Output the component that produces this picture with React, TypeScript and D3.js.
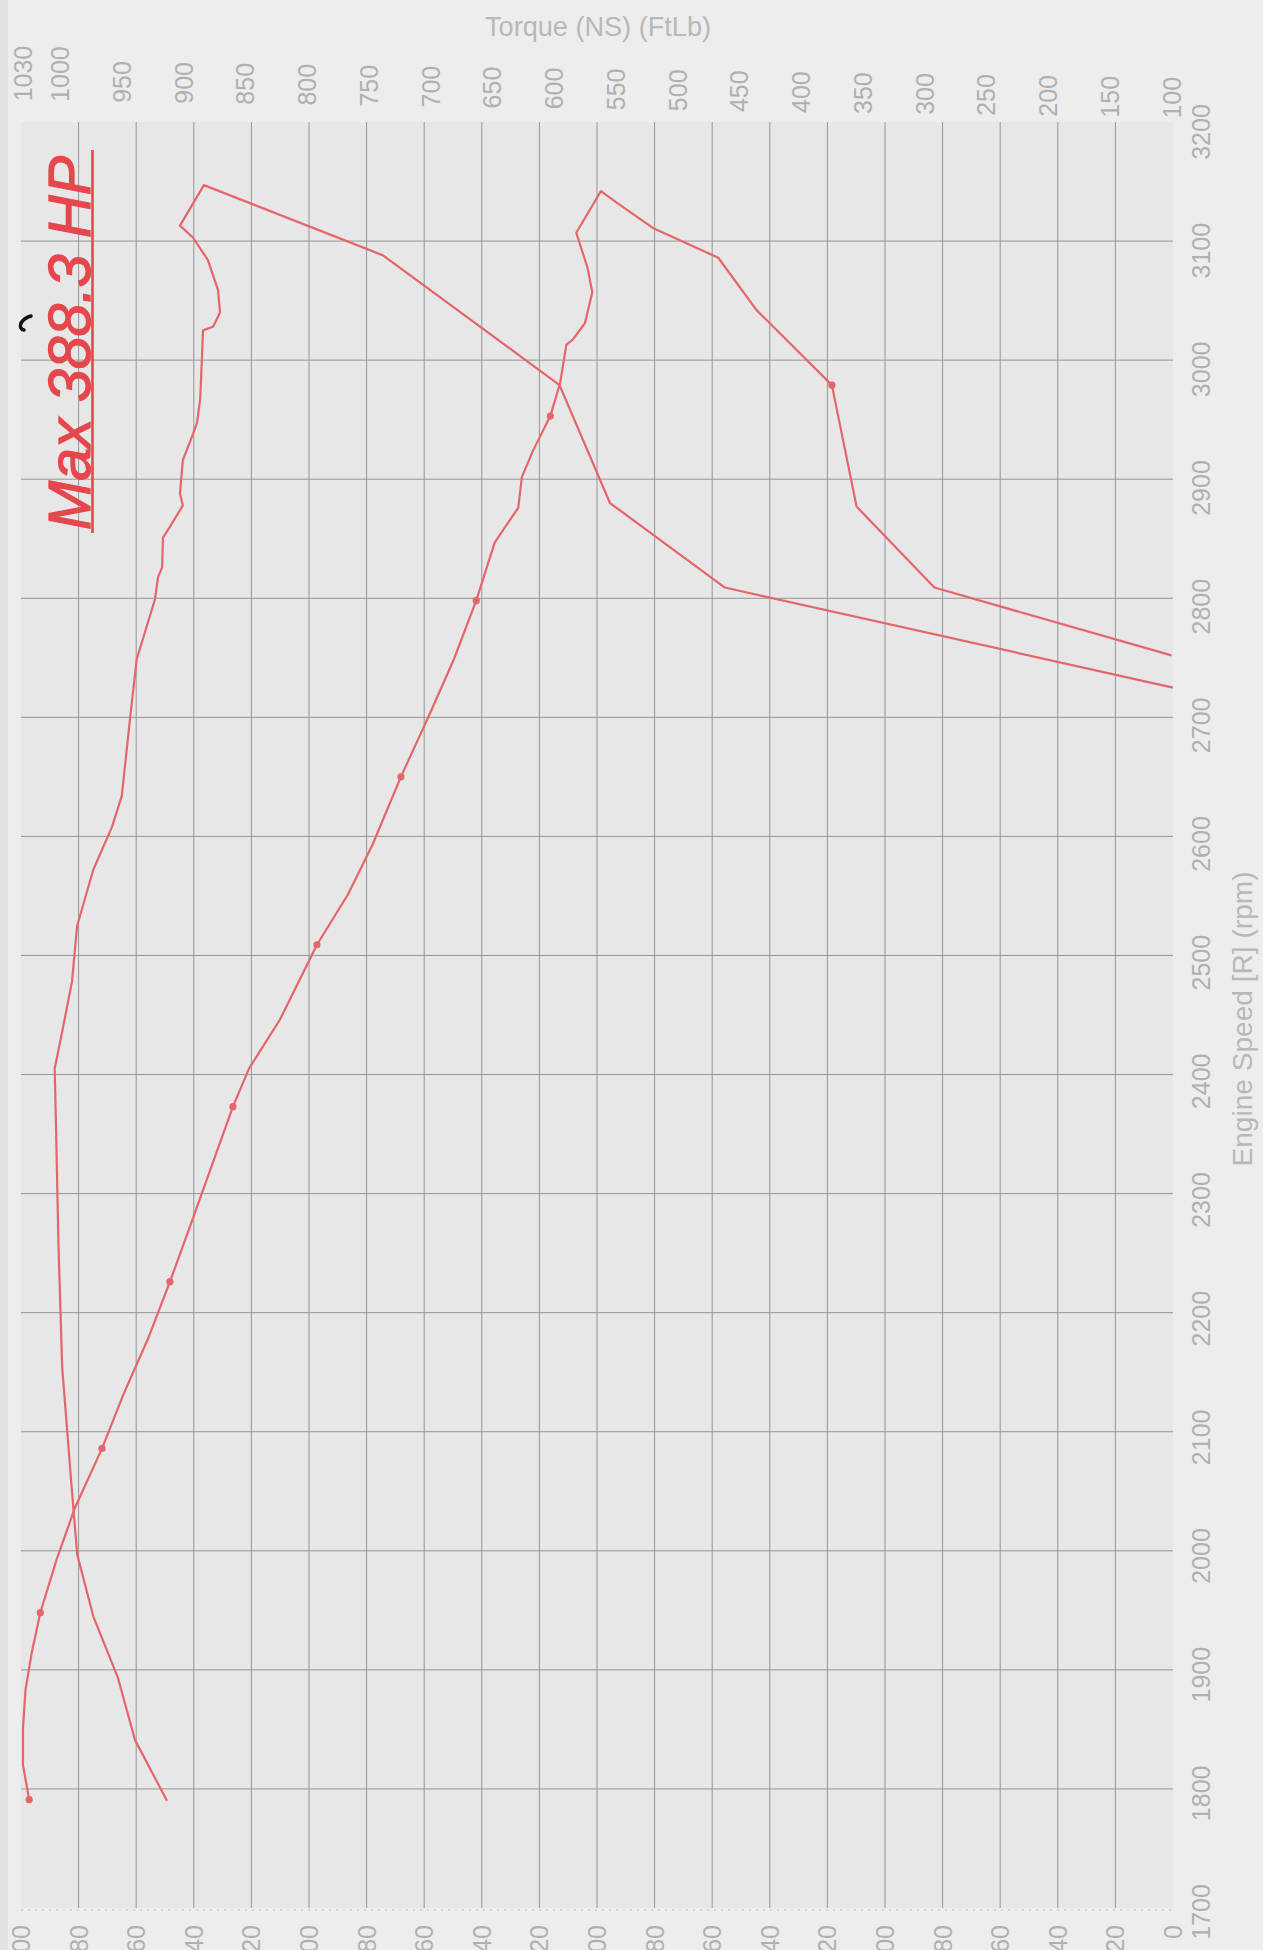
import React from 'react';
import * as d3 from 'd3';

// ---- tick labels ----
const torqueTicks = [1030, 1000, 950, 900, 850, 800, 750, 700, 650, 600, 550, 500, 450, 400, 350, 300, 250, 200, 150, 100];
const hpTicks = [0, 20, 40, 60, 80, 100, 120, 140, 160, 180, 200, 220, 240, 260, 280, 300, 320, 340, 360, 380, 400];
const rpmTicks = [1700, 1800, 1900, 2000, 2100, 2200, 2300, 2400, 2500, 2600, 2700, 2800, 2900, 3000, 3100, 3200];
const hpGrid = [20, 40, 60, 80, 100, 120, 140, 160, 180, 200, 220, 240, 260, 280, 300, 320, 340, 360, 380];
const rpmGrid = [1800, 1900, 2000, 2100, 2200, 2300, 2400, 2500, 2600, 2700, 2800, 2900, 3000, 3100];

// ---- torque run (ft-lb), in recorded order incl. coast-down ----
const torqueRpm = [1791, 1820, 1851, 1883, 1914, 1948, 1992, 2036, 2086, 2133, 2180, 2226, 2269, 2321, 2373, 2405, 2446, 2509, 2551, 2593, 2650, 2702, 2749, 2798, 2847, 2876, 2902, 2924, 2953, 2981, 3013, 3017, 3031, 3057, 3078, 3107, 3142, 3132, 3111, 3086, 3042, 2979, 2877, 2809, 2752];
const torqueVal = [1025, 1030, 1030, 1028, 1023, 1016, 1003, 988, 966, 948, 928, 911, 896, 878, 860, 847, 822, 792, 767, 747, 724, 701, 681, 663, 648, 629, 626, 617, 603, 595, 590, 585, 575, 569, 573, 582, 562, 549, 520, 467, 436, 375, 355, 292, 100];

// sample markers on the torque trace
const torqueDotRpm = [1791, 1948, 2086, 2226, 2373, 2509, 2650, 2798, 2953, 2979];
const torqueDotVal = [1025, 1016, 966, 911, 860, 792, 724, 663, 603, 375];

// ---- power run (HP) ----
const hpRpm = [1790, 1841, 1893, 1945, 1997, 2050, 2154, 2258, 2363, 2405, 2436, 2478, 2525, 2572, 2608, 2634, 2702, 2749, 2799, 2818, 2826, 2851, 2860, 2878, 2888, 2916, 2936, 2947, 2967, 3000, 3025, 3028, 3040, 3059, 3084, 3103, 3113, 3147, 3088, 2979, 2880, 2809, 2725];
const hpVal = [349.3, 360.4, 366.3, 374.9, 380.5, 382.3, 385.7, 387.0, 387.9, 388.3, 385.7, 382.3, 380.5, 374.9, 368.4, 365.0, 362.0, 359.8, 353.5, 352.4, 351.0, 350.7, 348.3, 343.8, 344.8, 343.8, 340.6, 338.9, 337.8, 337.2, 336.8, 333.3, 330.9, 331.6, 335.1, 340.3, 344.8, 336.5, 274.3, 213.0, 195.5, 155.6, 0];

const maxLabel = 'Max 388.3 HP';

const W = 1263;
const H = 1950;
const FONT = "'Liberation Sans', Arial, sans-serif";
const LABEL_FILL = '#b0b0b0';
const CURVE = '#e4666b';

export default function App() {
  const yRpm = d3.scaleLinear().domain([1700, 3200]).range([1908, 122]);
  const xTorque = d3.scaleLinear().domain([100, 1030]).range([1171.5, 23]);
  const xHp = d3.scaleLinear().domain([0, 400]).range([1173, 21]);

  const gridLeft = xHp(400);
  const gridRight = xHp(0);
  const gridTop = yRpm(3200);
  const gridBottom = yRpm(1700);

  const torquePts: [number, number][] = torqueRpm.map((r, i) => [r, torqueVal[i]]);
  const hpPts: [number, number][] = hpRpm.map((r, i) => [r, hpVal[i]]);

  const torqueLine = d3
    .line<[number, number]>()
    .x((d) => xTorque(d[1]))
    .y((d) => yRpm(d[0]));
  const hpLine = d3
    .line<[number, number]>()
    .x((d) => xHp(d[1]))
    .y((d) => yRpm(d[0]));

  const fs = 25;

  return (
    <svg
      width={W}
      height={H}
      viewBox={`0 0 ${W} ${H}`}
      style={{ position: 'absolute', left: 0, top: 0, display: 'block' }}
    >
      <rect x={0} y={0} width={W} height={H} fill="#ededed" />
      <rect x={0} y={0} width={8} height={H} fill="#e2e2e2" />
      <rect
        x={gridLeft}
        y={gridTop}
        width={gridRight - gridLeft}
        height={gridBottom - gridTop}
        fill="#e7e7e7"
      />

      {/* grid */}
      <g stroke="#959595" strokeWidth={1}>
        {hpGrid.map((v) => (
          <line key={'v' + v} x1={xHp(v)} x2={xHp(v)} y1={gridTop} y2={gridBottom} />
        ))}
        {rpmGrid.map((r) => (
          <line key={'h' + r} x1={gridLeft} x2={gridRight} y1={yRpm(r)} y2={yRpm(r)} />
        ))}
      </g>
      <line
        x1={gridLeft}
        x2={gridRight}
        y1={gridBottom + 2}
        y2={gridBottom + 2}
        stroke="#bcbcbc"
        strokeWidth={1}
        strokeDasharray="2 5"
      />

      {/* torque labels (top) */}
      <g fontFamily={FONT} fontSize={fs} fill={LABEL_FILL}>
        {torqueTicks.map((t) => {
          const cx = xTorque(t);
          const y = 101 + cx * 0.015;
          return (
            <text
              key={'t' + t}
              transform={`translate(${cx + fs * 0.36},${y}) rotate(-90)`}
              textAnchor="start"
            >
              {t}
            </text>
          );
        })}
      </g>

      {/* HP labels (bottom, cut by page edge as in the scan) */}
      <g fontFamily={FONT} fontSize={fs} fill={LABEL_FILL}>
        {hpTicks.map((v) => {
          const cx = xHp(v);
          return (
            <text
              key={'p' + v}
              transform={`translate(${cx + fs * 0.36},1925) rotate(-90)`}
              textAnchor="end"
            >
              {v}
            </text>
          );
        })}
      </g>

      {/* rpm labels (right) */}
      <g fontFamily={FONT} fontSize={fs} fill={LABEL_FILL}>
        {rpmTicks.map((r) => {
          const cy = yRpm(r) + 4 + ((r - 1700) / 1500) * 6;
          return (
            <text
              key={'r' + r}
              transform={`translate(${1201 + fs * 0.36},${cy}) rotate(-90)`}
              textAnchor="middle"
            >
              {r}
            </text>
          );
        })}
      </g>

      {/* axis titles */}
      <text
        x={598}
        y={36}
        fontFamily={FONT}
        fontSize={28}
        fill="#b8b8b8"
        textAnchor="middle"
        textLength={226}
        lengthAdjust="spacingAndGlyphs"
      >
        Torque (NS) (FtLb)
      </text>
      <text
        transform={`translate(1252,1019) rotate(-90)`}
        fontFamily={FONT}
        fontSize={28}
        fill="#b8b8b8"
        textAnchor="middle"
        textLength={295}
        lengthAdjust="spacingAndGlyphs"
      >
        Engine Speed [R] (rpm)
      </text>

      {/* curves */}
      <path d={hpLine(hpPts) || ''} fill="none" stroke={CURVE} strokeWidth={2.2} strokeLinejoin="round" />
      <path d={torqueLine(torquePts) || ''} fill="none" stroke={CURVE} strokeWidth={2.2} strokeLinejoin="round" />
      <g fill={CURVE}>
        {torqueDotRpm.map((r, i) => (
          <circle key={'d' + i} cx={xTorque(torqueDotVal[i])} cy={yRpm(r)} r={3.6} />
        ))}
      </g>

      {/* max annotation */}
      <text
        transform={`translate(90,530) rotate(-90)`}
        fontFamily={FONT}
        fontSize={60}
        fontStyle="italic"
        fill="#e5474d"
        stroke="#e5474d"
        strokeWidth={1.3}
        textLength={374}
        lengthAdjust="spacingAndGlyphs"
      >
        {maxLabel}
      </text>
      <line x1={92.5} x2={92.5} y1={150} y2={533} stroke="#e5474d" strokeWidth={2.6} />

      {/* scanner speck */}
      <path d="M31 316 Q24 318 21 323 Q19 329 24 330" fill="none" stroke="#111" strokeWidth={3.5} strokeLinecap="round" />
    </svg>
  );
}
